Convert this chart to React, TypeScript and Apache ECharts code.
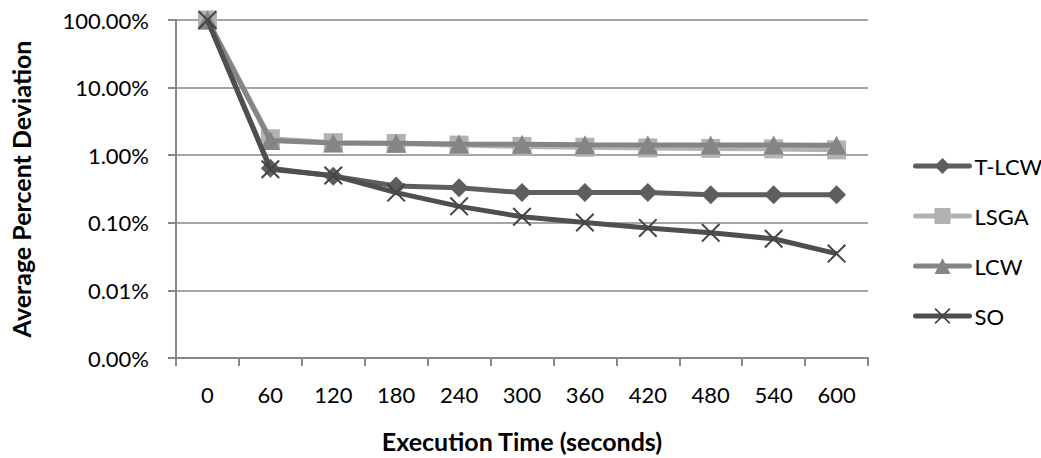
import React, { useEffect, useRef } from "react";
import * as echarts from "echarts";

const categories = ["0", "60", "120", "180", "240", "300", "360", "420", "480", "540", "600"];
const seriesNames = ["T-LCW", "LSGA", "LCW", "SO"];
const tlcw = [1.0, 0.0064, 0.0049, 0.0035, 0.0033, 0.0028, 0.0028, 0.0028, 0.0026, 0.0026, 0.0026];
const lsga = [1.0, 0.0175, 0.0153, 0.0149, 0.0141, 0.0135, 0.0131, 0.0128, 0.0126, 0.0124, 0.012];
const lcw = [1.0, 0.0165, 0.0152, 0.015, 0.0147, 0.0145, 0.0143, 0.0142, 0.0142, 0.0141, 0.014];
const so = [1.0, 0.0062, 0.005, 0.0028, 0.00175, 0.00123, 0.00101, 0.00084, 0.00071, 0.00058, 0.00035];

const FONT = "Lato";
const CROSS =
  "path://M0,1.2 L1.2,0 L8,6.8 L14.8,0 L16,1.2 L9.2,8 L16,14.8 L14.8,16 L8,9.2 L1.2,16 L0,14.8 L6.8,8 Z";

export default function App() {
  const ref = useRef<HTMLDivElement>(null);
  useEffect(() => {
    if (!ref.current) return;
    const chart = echarts.init(ref.current, undefined, { renderer: "svg" });
    const mk = (name: string, data: number[], color: string, symbol: string, size: number | number[], z: number) => ({
      name,
      type: "line",
      data,
      symbol,
      symbolSize: size,
      z,
      lineStyle: { color, width: 5 },
      itemStyle: { color },
    });
    chart.setOption({
      animation: false,
      backgroundColor: "#ffffff",
      textStyle: { fontFamily: FONT },
      grid: { left: 176, right: 173, top: 20, height: 347, containLabel: false },
      legend: {
        orient: "vertical",
        left: 908,
        top: 150,
        itemWidth: 54,
        itemHeight: 20,
        itemGap: 28,
        lineStyle: { width: 5, cap: "round" },
        textStyle: { fontFamily: FONT, fontSize: 22, color: "#000", lineHeight: 20 },
        data: seriesNames,
      },
      xAxis: {
        type: "category",
        data: categories,
        boundaryGap: true,
        name: "Execution Time (seconds)",
        nameLocation: "middle",
        nameGap: 70,
        nameTextStyle: { fontFamily: FONT, fontSize: 25, fontWeight: "bold", color: "#000" },
        axisLine: { lineStyle: { color: "#878787", width: 2 } },
        axisTick: { show: true, length: 8, lineStyle: { color: "#878787", width: 2 } },
        axisLabel: { fontFamily: FONT, fontSize: 22, color: "#000", margin: 25, interval: 0 },
        splitLine: { show: false },
      },
      yAxis: {
        type: "log",
        logBase: 10,
        min: 0.00001,
        max: 1,
        name: "Average Percent Deviation",
        nameLocation: "middle",
        nameGap: 143,
        nameRotate: 90,
        nameTextStyle: { fontFamily: FONT, fontSize: 25, fontWeight: "bold", color: "#000" },
        axisLine: { show: true, lineStyle: { color: "#878787", width: 2 } },
        axisTick: { show: true, length: 8, lineStyle: { color: "#878787", width: 2 } },
        axisLabel: {
          fontFamily: FONT,
          fontSize: 22,
          color: "#000",
          margin: 27,
          formatter: (v: number) => (v * 100).toFixed(2) + "%",
        },
        splitLine: { show: true, lineStyle: { color: "#878787", width: 1.5 } },
      },
      series: [
        mk("T-LCW", tlcw, "#5e5e5e", "diamond", 19, 2),
        mk("LSGA", lsga, "#b2b2b2", "rect", 19, 3),
        mk("LCW", lcw, "#858585", "triangle", [20, 19], 4),
        {
          ...mk("SO", so, "#4f4f4f", CROSS, 19, 5),
          itemStyle: { color: "#454545" },
        },
      ],
    });
    return () => chart.dispose();
  }, []);
  return (
    <div
      ref={ref}
      style={{ position: "absolute", left: 0, top: 0, width: 1041, height: 458 }}
    />
  );
}
